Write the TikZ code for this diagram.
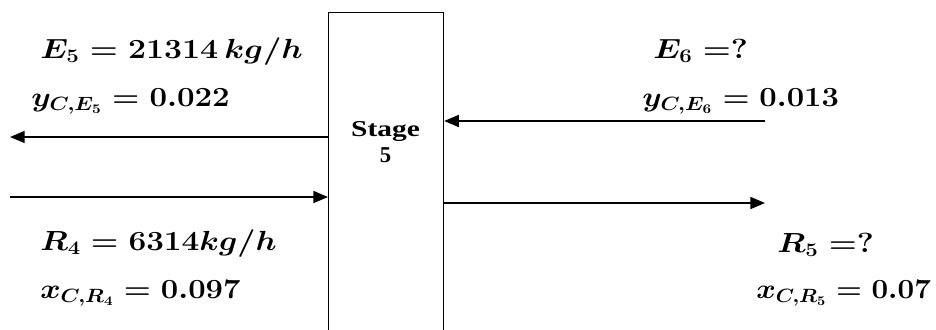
\documentclass[tikz,border=0pt]{standalone}
\usepackage[no-math]{fontspec}
\usepackage{graphicx}
\newfontfamily\stagefont{Liberation Serif}
\usetikzlibrary{arrows.meta}
\newcommand\wideX[2][1.16]{\scalebox{#1}[1]{#2}}
\begin{document}
\begin{tikzpicture}[x=0.75pt,y=-0.75pt,
  lbl/.style={anchor=base west, inner sep=0pt, font=\fontsize{20}{24}\selectfont\boldmath},
  flow/.style={line width=1.3pt, -{Triangle[length=11pt,width=9pt]}},
  stagebox/.style={draw, line width=0.9pt, inner sep=0pt, anchor=north west,
    minimum width=86.25pt, minimum height=250pt},
]
\useasboundingbox (0,0) rectangle (936,329);
\clip (0,0) rectangle (936,329);
% stage box
\node[stagebox] (stage) at (328,12) {};
\node[anchor=base, inner sep=0pt, font=\stagefont\bfseries\fontsize{17}{19.5}\selectfont, align=center] (stagetxt) at (385.5,162) {\scalebox{1.3}[1]{Stage}\\5};
% free ends
\coordinate (e5end) at (10,137);
\coordinate (r4start) at (10,197);
\coordinate (e6start) at (765,121);
\coordinate (r5end) at (765,203);
% flows
\draw[flow] (stage.west |- e5end) -- (e5end);
\draw[flow] (r4start) -- (stage.west |- r4start);
\draw[flow] (e6start) -- (stage.east |- e6start);
\draw[flow] (stage.east |- r5end) -- (r5end);
% labels
\node[lbl] (e5) at (40,58) {\wideX{$E_5 = 21314\,kg/h$}};
\node[lbl] (ye5) at (31,106) {\wideX[1.13]{$y_{C,E_5} = 0.022$}};
\node[lbl] (e6) at (653,58) {\wideX{$E_6\;{=}?$}};
\node[lbl] (ye6) at (642,106) {\wideX[1.12]{$y_{C,E_6} = 0.013$}};
\node[lbl] (r4) at (40,250) {\wideX[1.14]{$R_4 = 6314kg/h$}};
\node[lbl] (xr4) at (40,298) {\wideX[1.12]{$x_{C,R_4} = 0.097$}};
\node[lbl] (r5) at (777,252) {\wideX{$R_5\;{=}?$}};
\node[lbl] (xr5) at (756,298) {\wideX[1.07]{$x_{C,R_5} = 0.07$}};
\end{tikzpicture}
\end{document}
